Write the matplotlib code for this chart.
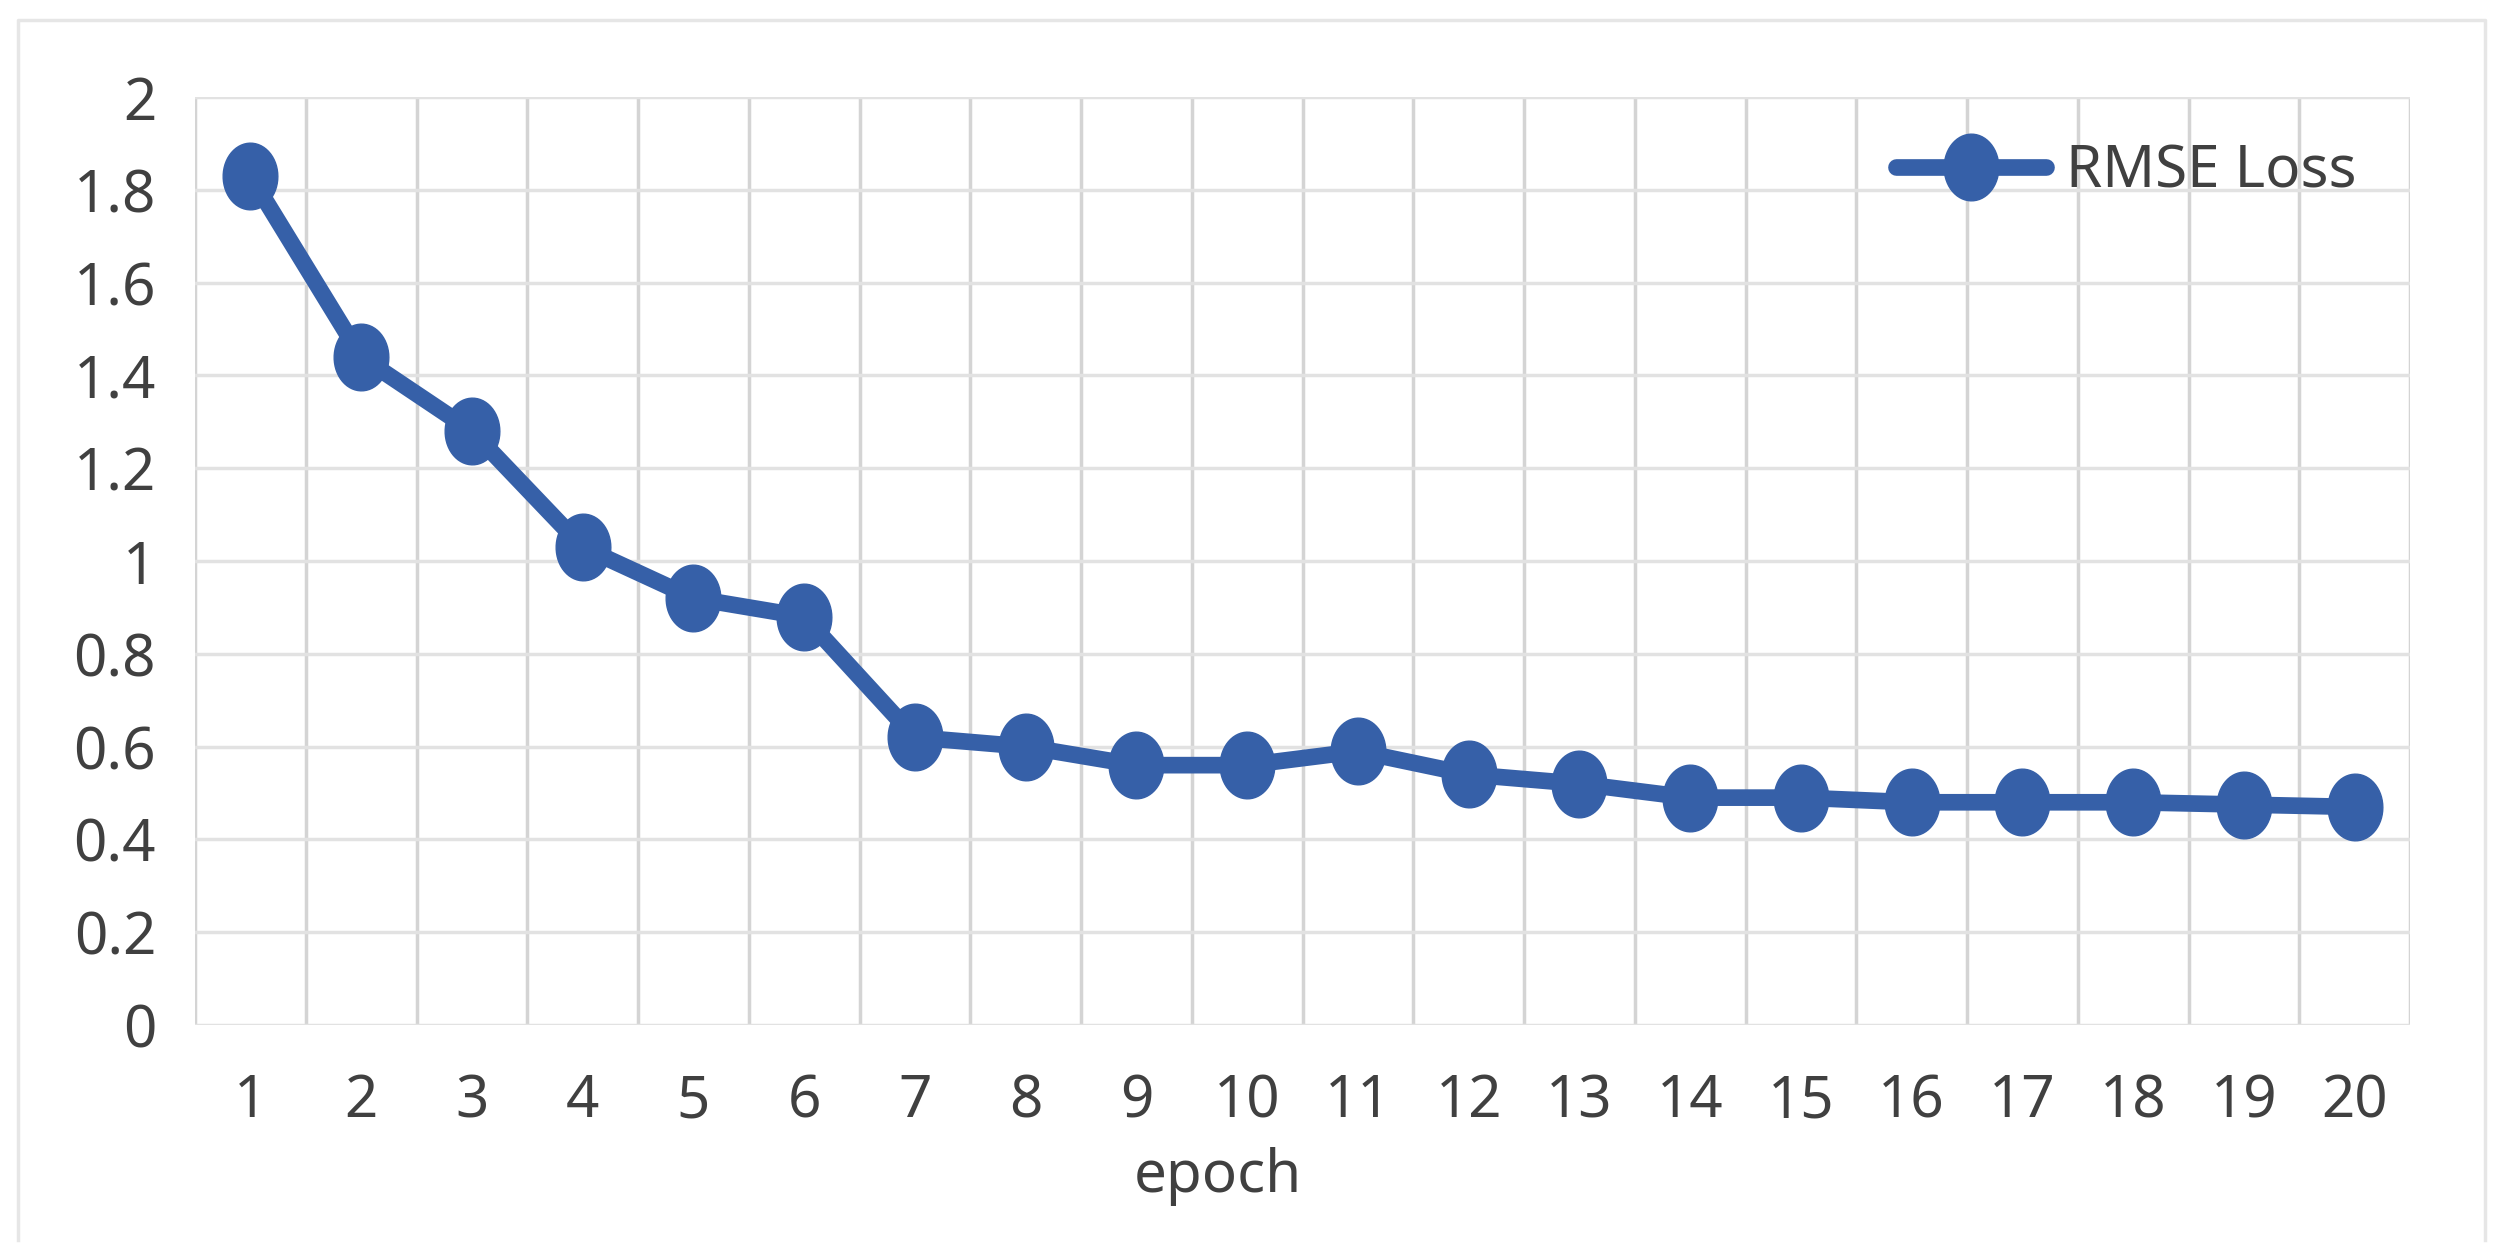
import numpy as np
import matplotlib
matplotlib.use('Agg')
import matplotlib.pyplot as plt
from matplotlib.path import Path
from matplotlib.lines import Line2D

plt.rcParams['font.family'] = ['Noto Sans', 'DejaVu Sans']

# data
epochs = np.arange(1, 21)
rmse_loss = [1.83, 1.44, 1.28, 1.03, 0.92, 0.88, 0.62, 0.60, 0.56, 0.56,
             0.59, 0.54, 0.52, 0.49, 0.49, 0.48, 0.48, 0.48, 0.475, 0.47]
y_ticks = [0, 0.2, 0.4, 0.6, 0.8, 1, 1.2, 1.4, 1.6, 1.8, 2]
y_ticklabels = ['0', '0.2', '0.4', '0.6', '0.8', '1', '1.2', '1.4', '1.6', '1.8', '2']

W, H = 2502, 1260
blue = '#3660a8'
txt = '#404040'
fs = 42

# slightly tall ellipse marker, like the stretched Excel picture
t = np.linspace(0, 2 * np.pi, 60)
ell = Path(np.column_stack([0.82 * np.cos(t), np.sin(t)]), closed=True)

fig = plt.figure(figsize=(W / 100, H / 100), dpi=100)
fig.patch.set_facecolor('white')

# outer light frame of the chart (left, top, right; bottom is cut off)
fx = [18 / W, 18 / W, 2485 / W, 2485 / W]
fy = [1 - 1240 / H, 1 - 20 / H, 1 - 20 / H, 1 - 1240 / H]
fig.lines.append(Line2D(fx, fy, transform=fig.transFigure, color='#e6e6e6', lw=2.5))

ax = fig.add_axes([195 / W, 1 - 1025 / H, (2410 - 195) / W, (1025 - 97) / H])
ax.plot(epochs, rmse_loss, color=blue, lw=12, marker=ell, markersize=48,
        markerfacecolor=blue, markeredgecolor=blue, label='RMSE Loss',
        solid_capstyle='round', zorder=3)

ax.set_xlim(0.5, 20.5)
ax.set_ylim(0, 2)
ax.set_xticks(epochs)
ax.set_xticklabels([str(e) for e in epochs])
ax.set_xticks(np.arange(0.5, 21, 1), minor=True)
ax.set_yticks(y_ticks)
ax.set_yticklabels(y_ticklabels)
ax.grid(which='minor', axis='x', color='#d4d4d4', lw=2.5)
ax.grid(which='major', axis='y', color='#e2e2e2', lw=2.5)
ax.grid(which='major', axis='x', visible=False)
for s in ax.spines.values():
    s.set_visible(False)
ax.tick_params(which='both', length=0, labelsize=fs, labelcolor=txt)
ax.tick_params(axis='y', pad=28)
ax.tick_params(axis='x', pad=34)

ax.set_xlabel('epoch', fontsize=fs, color=txt)
ax.xaxis.label.set_va('center')
ax.xaxis.set_label_coords((1218 - 195) / 2215, (1025 - 1176) / 928)

leg = ax.legend(loc='center left', bbox_to_anchor=(1896 / W, 1 - 172 / H),
                bbox_transform=fig.transFigure, frameon=False, fontsize=fs,
                handlelength=108 / fs, handletextpad=0.35, borderpad=0,
                borderaxespad=0)
for t_ in leg.get_texts():
    t_.set_color(txt)

fig.savefig('out.png', dpi=100, facecolor='white')
